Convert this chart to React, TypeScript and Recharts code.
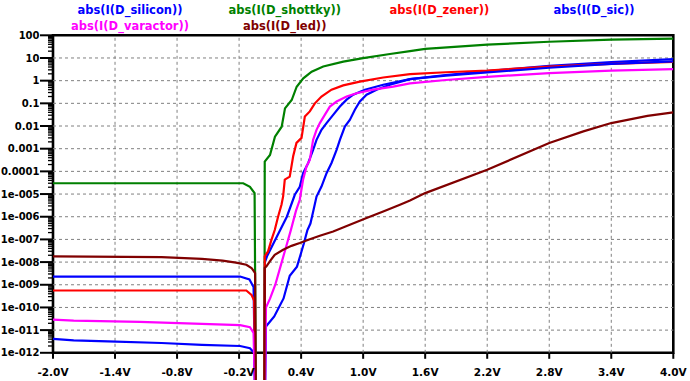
import React from "react";
import { LineChart, Line, XAxis, YAxis, ReferenceLine, ReferenceArea } from "recharts";

// diode sweeps, |I| in amps vs V (1e-16 = current crossing zero, drops off the log axis)
const SILICON = [
  { v: -2.0, i: 2.3e-9 }, { v: -0.19, i: 2.3e-9 }, { v: -0.1, i: 1.7e-9 }, { v: -0.06, i: 8e-10 },
  { v: -0.035, i: 1e-16 }, { v: 0.045, i: 1e-16 }, { v: 0.05, i: 1e-8 }, { v: 0.07, i: 1.8e-8 },
  { v: 0.166, i: 1.35e-7 }, { v: 0.262, i: 1e-6 }, { v: 0.339, i: 9.3e-6 }, { v: 0.387, i: 2.1e-5 },
  { v: 0.419, i: 8.3e-5 }, { v: 0.468, i: 2.3e-4 }, { v: 0.516, i: 8.9e-4 }, { v: 0.549, i: 2.45e-3 },
  { v: 0.597, i: 6.8e-3 }, { v: 0.646, i: 1.35e-2 }, { v: 0.71, i: 3.1e-2 }, { v: 0.775, i: 7.2e-2 },
  { v: 0.84, i: 0.145 }, { v: 0.904, i: 0.24 }, { v: 1.017, i: 0.4 }, { v: 1.194, i: 0.66 },
  { v: 1.453, i: 1.17 }, { v: 1.8, i: 1.78 }, { v: 2.2, i: 2.63 }, { v: 2.8, i: 4.47 },
  { v: 3.4, i: 6.6 }, { v: 4.0, i: 8.9 },
];

const SHOTTKY = [
  { v: -2.0, i: 3.0e-5 }, { v: -0.16, i: 3.0e-5 }, { v: -0.095, i: 2.1e-5 }, { v: -0.05, i: 1.1e-5 },
  { v: -0.035, i: 1e-16 }, { v: 0.045, i: 1e-16 }, { v: 0.048, i: 2.7e-4 }, { v: 0.099, i: 5.3e-4 },
  { v: 0.147, i: 3.4e-3 }, { v: 0.212, i: 9.3e-3 }, { v: 0.244, i: 6.0e-2 }, { v: 0.309, i: 0.14 },
  { v: 0.357, i: 0.54 }, { v: 0.421, i: 1.26 }, { v: 0.502, i: 2.5 }, { v: 0.614, i: 4.2 },
  { v: 0.808, i: 6.9 }, { v: 1.0, i: 9.8 }, { v: 1.259, i: 15 }, { v: 1.453, i: 20 },
  { v: 1.6, i: 25 }, { v: 2.2, i: 39 }, { v: 2.8, i: 52 }, { v: 3.4, i: 65 }, { v: 4.0, i: 71 },
];

const ZENER = [
  { v: -2.0, i: 5.6e-10 }, { v: -0.13, i: 5.6e-10 }, { v: -0.08, i: 3.6e-10 }, { v: -0.055, i: 2e-10 },
  { v: -0.035, i: 1e-16 }, { v: 0.045, i: 1e-16 }, { v: 0.048, i: 1.8e-8 }, { v: 0.08, i: 2.95e-8 },
  { v: 0.113, i: 9.5e-8 }, { v: 0.145, i: 2.6e-7 }, { v: 0.177, i: 1.0e-6 }, { v: 0.21, i: 3.4e-6 },
  { v: 0.226, i: 7.9e-6 }, { v: 0.242, i: 4.3e-5 }, { v: 0.29, i: 5.9e-5 }, { v: 0.323, i: 4.6e-4 },
  { v: 0.355, i: 1.8e-3 }, { v: 0.404, i: 3.0e-3 }, { v: 0.436, i: 2.6e-2 }, { v: 0.484, i: 4.4e-2 },
  { v: 0.533, i: 0.1 }, { v: 0.597, i: 0.2 }, { v: 0.694, i: 0.4 }, { v: 0.807, i: 0.62 },
  { v: 0.968, i: 0.91 }, { v: 1.194, i: 1.38 }, { v: 1.453, i: 1.95 }, { v: 1.8, i: 2.35 },
  { v: 2.2, i: 2.8 }, { v: 2.8, i: 4.2 }, { v: 3.4, i: 5.5 }, { v: 4.0, i: 6.8 },
];

const SIC = [
  { v: -2.0, i: 4.1e-12 }, { v: -1.8, i: 3.55e-12 }, { v: -1.47, i: 3.2e-12 }, { v: -0.95, i: 2.7e-12 },
  { v: -0.56, i: 2.24e-12 }, { v: -0.19, i: 2.0e-12 }, { v: -0.095, i: 1.6e-12 }, { v: -0.055, i: 1e-12 },
  { v: -0.035, i: 1e-16 }, { v: 0.045, i: 1e-16 }, { v: 0.06, i: 1.45e-11 }, { v: 0.14, i: 4e-11 },
  { v: 0.23, i: 2.5e-10 }, { v: 0.29, i: 2.5e-9 }, { v: 0.36, i: 6.3e-9 }, { v: 0.39, i: 1.8e-8 },
  { v: 0.425, i: 6.3e-8 }, { v: 0.46, i: 2.5e-7 }, { v: 0.49, i: 5e-7 }, { v: 0.52, i: 2e-6 },
  { v: 0.549, i: 7.8e-6 }, { v: 0.597, i: 2.14e-5 }, { v: 0.646, i: 8.3e-5 }, { v: 0.694, i: 2.34e-4 },
  { v: 0.743, i: 8.9e-4 }, { v: 0.775, i: 2.45e-3 }, { v: 0.823, i: 9.5e-3 }, { v: 0.871, i: 1.86e-2 },
  { v: 0.92, i: 5.2e-2 }, { v: 0.968, i: 0.12 }, { v: 1.033, i: 0.24 }, { v: 1.13, i: 0.4 },
  { v: 1.259, i: 0.66 }, { v: 1.453, i: 1.17 }, { v: 1.8, i: 1.66 }, { v: 2.2, i: 2.29 },
  { v: 2.8, i: 3.7 }, { v: 3.4, i: 5.5 }, { v: 4.0, i: 7.1 },
];

const VARACTOR = [
  { v: -2.0, i: 2.9e-11 }, { v: -1.8, i: 2.6e-11 }, { v: -1.16, i: 2.3e-11 }, { v: -0.56, i: 1.9e-11 },
  { v: -0.19, i: 1.66e-11 }, { v: -0.095, i: 1.35e-11 }, { v: -0.06, i: 7.6e-12 },
  { v: -0.035, i: 1e-16 }, { v: 0.045, i: 1e-16 }, { v: 0.06, i: 1e-10 }, { v: 0.1, i: 2.5e-10 },
  { v: 0.15, i: 1e-9 }, { v: 0.2, i: 6.3e-9 }, { v: 0.25, i: 4e-8 }, { v: 0.3, i: 2.5e-7 },
  { v: 0.35, i: 1.8e-6 }, { v: 0.387, i: 5.6e-6 }, { v: 0.419, i: 4.3e-5 }, { v: 0.452, i: 1.66e-4 },
  { v: 0.484, i: 3.2e-4 }, { v: 0.516, i: 2.45e-3 }, { v: 0.549, i: 6.8e-3 }, { v: 0.581, i: 1.35e-2 },
  { v: 0.629, i: 3.1e-2 }, { v: 0.678, i: 7.2e-2 }, { v: 0.743, i: 0.12 }, { v: 0.84, i: 0.2 },
  { v: 0.936, i: 0.28 }, { v: 1.097, i: 0.4 }, { v: 1.291, i: 0.55 }, { v: 1.453, i: 0.76 },
  { v: 1.8, i: 1.07 }, { v: 2.2, i: 1.48 }, { v: 2.8, i: 2.14 }, { v: 3.4, i: 2.75 }, { v: 4.0, i: 3.24 },
];

const LED = [
  { v: -2.0, i: 1.8e-8 }, { v: -0.95, i: 1.66e-8 }, { v: -0.56, i: 1.38e-8 }, { v: -0.36, i: 1.17e-8 },
  { v: -0.23, i: 9.5e-9 }, { v: -0.13, i: 7.6e-9 }, { v: -0.08, i: 5.5e-9 }, { v: -0.045, i: 3.3e-9 },
  { v: -0.035, i: 1e-16 }, { v: 0.045, i: 1e-16 }, { v: 0.048, i: 5.5e-9 }, { v: 0.065, i: 6.5e-9 },
  { v: 0.097, i: 1.07e-8 }, { v: 0.145, i: 2.1e-8 }, { v: 0.226, i: 3.5e-8 }, { v: 0.307, i: 5.2e-8 },
  { v: 0.387, i: 6.9e-8 }, { v: 0.484, i: 1.02e-7 }, { v: 0.581, i: 1.45e-7 }, { v: 0.71, i: 2.24e-7 },
  { v: 0.871, i: 4.4e-7 }, { v: 1.033, i: 8.7e-7 }, { v: 1.194, i: 1.7e-6 }, { v: 1.356, i: 3.4e-6 },
  { v: 1.453, i: 5.2e-6 }, { v: 1.6, i: 1.1e-5 }, { v: 2.2, i: 1.17e-4 }, { v: 2.8, i: 1.8e-3 },
  { v: 3.13, i: 5.8e-3 }, { v: 3.4, i: 1.35e-2 }, { v: 3.75, i: 2.8e-2 }, { v: 4.0, i: 4.0e-2 },
];

const SERIES = [
  { name: "abs(I(D_silicon))", data: SILICON, color: "#0000ff" },
  { name: "abs(I(D_shottky))", data: SHOTTKY, color: "#008000" },
  { name: "abs(I(D_zener))", data: ZENER, color: "#ff0000" },
  { name: "abs(I(D_sic))", data: SIC, color: "#0000ff" },
  { name: "abs(I(D_varactor))", data: VARACTOR, color: "#ff00ff" },
  { name: "abs(I(D_led))", data: LED, color: "#800000" },
];

const X_TICKS = [-2, -1.4, -0.8, -0.2, 0.4, 1.0, 1.6, 2.2, 2.8, 3.4, 4.0];
const X_LABELS = ["-2.0V", "-1.4V", "-0.8V", "-0.2V", "0.4V", "1.0V", "1.6V", "2.2V", "2.8V", "3.4V", "4.0V"];
const Y_MAJOR = [100, 10, 1, 0.1, 0.01, 0.001, 0.0001, 1e-5, 1e-6, 1e-7, 1e-8, 1e-9, 1e-10, 1e-11, 1e-12];
const Y_LABELS = [
  "100", "10", "1", "0.1", "0.01", "0.001", "0.0001", "1e-005", "1e-006",
  "1e-007", "1e-008", "1e-009", "1e-010", "1e-011", "1e-012",
];
const Y_MINOR = Y_MAJOR.slice(1).flatMap((m) => [2, 3, 4, 5, 6, 7, 8, 9].map((d) => m * d));

const W = 690;
const H = 381;
const TOP = 35.3; // plot top (100 A)
const BOTTOM = 352.8; // 1e-12 line
const X_AXIS_H = 1; // axis needs a non-zero height to render its ticks
const DECADE = (BOTTOM - TOP) / 14;
// plot area runs to the bottom of the picture so traces spill under the axis like LTspice
const Y_MIN = 100 / Math.pow(10, (H - X_AXIS_H - TOP) / DECADE);
const FONT = '"DejaVu Sans", sans-serif';

const YTick = (props: any) => {
  const { x, y, payload } = props;
  const idx = Y_MAJOR.indexOf(payload.value);
  if (idx < 0) {
    return <line x1={x - 5} x2={x} y1={y} y2={y} stroke="#000" strokeWidth={1.3} />;
  }
  return (
    <g>
      <line x1={x - 13} x2={x} y1={y} y2={y} stroke="#000" strokeWidth={2} />
      <text x={x - 13.5} y={y} dy="0.36em" textAnchor="end" fontFamily={FONT} fontWeight="bold" fontSize={10} fill="#000">
        {Y_LABELS[idx]}
      </text>
    </g>
  );
};

const XTick = (props: any) => {
  const { x, payload } = props;
  const idx = X_TICKS.indexOf(payload.value);
  return (
    <g>
      <line x1={x} x2={x} y1={BOTTOM} y2={BOTTOM + 6} stroke="#000" strokeWidth={2} />
      <text x={x} y={BOTTOM + 19} dy="0.36em" textAnchor="middle" fontFamily={FONT} fontWeight="bold" fontSize={10.5} fill="#000">
        {X_LABELS[idx]}
      </text>
    </g>
  );
};

export default function App() {
  return (
    <div style={{ position: "absolute", left: 0, top: 0, width: W, height: H, background: "#fff" }}>
      <LineChart width={W} height={H} margin={{ top: TOP, right: W - 673.3, bottom: 0, left: 0 }}>
        <XAxis
          dataKey="v"
          type="number"
          domain={[-2, 4]}
          ticks={X_TICKS}
          interval={0}
          height={X_AXIS_H}
          tickSize={0}
          tickMargin={0}
          axisLine={false}
          tickLine={false}
          tick={<XTick />}
          allowDataOverflow
        />
        <YAxis
          dataKey="i"
          scale="log"
          domain={[Y_MIN, 100]}
          ticks={[...Y_MAJOR, ...Y_MINOR]}
          interval={0}
          width={53}
          tickSize={0}
          tickMargin={0}
          axisLine={false}
          tickLine={false}
          tick={<YTick />}
          allowDataOverflow
        />
        {Y_MAJOR.slice(1, -1).map((v) => (
          <ReferenceLine key={"h" + v} y={v} stroke="#808080" strokeDasharray="3 3" strokeWidth={1} />
        ))}
        {X_TICKS.slice(1, -1).map((v) => (
          <ReferenceLine
            key={"v" + v}
            segment={[{ x: v, y: 1e-12 }, { x: v, y: 100 }]}
            stroke="#808080"
            strokeDasharray="3 3"
            strokeWidth={1}
          />
        ))}
        <ReferenceArea x1={-2} x2={4} y1={1e-12} y2={100} fill="none" fillOpacity={0} stroke="#000" strokeWidth={2.6} />
        {SERIES.map((s) => (
          <Line
            key={s.name}
            data={s.data}
            dataKey="i"
            name={s.name}
            type="linear"
            stroke={s.color}
            strokeWidth={2.2}
            dot={false}
            isAnimationActive={false}
          />
        ))}
      </LineChart>
      {SERIES.map((s, k) => (
        <div
          key={s.name}
          style={{
            position: "absolute",
            left: 130 + (k % 4) * 154.7,
            top: 10 + Math.floor(k / 4) * 15.7,
            transform: "translate(-50%, -50%)",
            color: s.color,
            fontFamily: FONT,
            fontWeight: "bold",
            fontSize: 11.5,
            whiteSpace: "nowrap",
            lineHeight: "14px",
          }}
        >
          {s.name}
        </div>
      ))}
    </div>
  );
}
